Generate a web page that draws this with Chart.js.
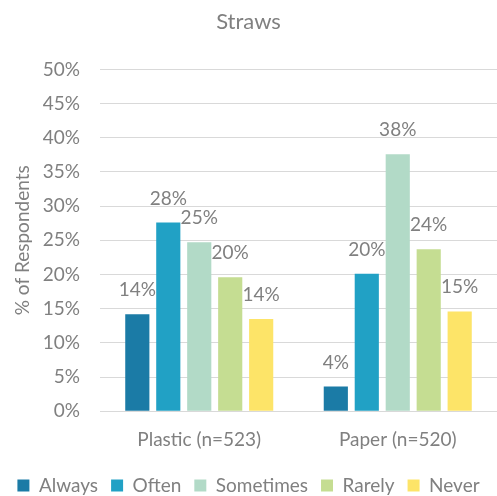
<!DOCTYPE html>
<html>
<head>
<meta charset="utf-8">
<script src="https://cdn.jsdelivr.net/npm/chart.js@4/dist/chart.umd.min.js"></script>
<style>
  html, body { margin: 0; padding: 0; background: #fff; }
  #wrap { width: 497px; height: 496px; }
</style>
</head>
<body>
<div id="wrap"><canvas id="c" width="497" height="496"></canvas></div>
<script>
const categories = ['Plastic (n=523)', 'Paper (n=520)'];
const seriesNames = ['Always', 'Often', 'Sometimes', 'Rarely', 'Never'];
const always = [14.2, 3.6];
const often = [27.6, 20.1];
const sometimes = [24.7, 37.6];
const rarely = [19.6, 23.7];
const never = [13.5, 14.6];
const yTicks = [0, 5, 10, 15, 20, 25, 30, 35, 40, 45, 50];

const colors = ['#1B7BA6', '#21A1C5', '#B2DAC7', '#C5DD92', '#FDE468'];
const grey = '#808080';
const font = "Lato, sans-serif";

// draw the rounded value above each bar
const valueLabels = {
  id: 'valueLabels',
  afterDatasetsDraw(chart) {
    const ctx = chart.ctx;
    ctx.save();
    ctx.font = '19px ' + font;
    ctx.fillStyle = grey;
    ctx.textAlign = 'center';
    ctx.textBaseline = 'alphabetic';
    chart.data.datasets.forEach((ds, i) => {
      chart.getDatasetMeta(i).data.forEach((bar, j) => {
        ctx.fillText(Math.round(ds.data[j]) + '%', bar.x, bar.y - 18);
      });
    });
    ctx.restore();
  }
};

const values = [always, often, sometimes, rarely, never];
const datasets = seriesNames.map((name, i) => ({
  label: name,
  data: values[i],
  backgroundColor: colors[i],
  borderWidth: 0,
  barPercentage: 0.78,
  categoryPercentage: 0.78
}));

new Chart(document.getElementById('c'), {
  type: 'bar',
  data: { labels: categories, datasets },
  plugins: [valueLabels],
  options: {
    responsive: false,
    animation: false,
    layout: { padding: { left: 0, right: 0, top: 0, bottom: -9 } },
    plugins: {
      title: {
        display: true,
        text: 'Straws',
        color: grey,
        font: { family: font, size: 22, weight: 'normal' },
        padding: { top: 9, bottom: 34 }
      },
      legend: {
        position: 'bottom',
        labels: {
          color: grey,
          font: { family: font, size: 19 },
          boxWidth: 12,
          boxHeight: 12,
          padding: 13
        }
      },
      tooltip: { enabled: false }
    },
    scales: {
      x: {
        grid: { display: false },
        border: { color: '#D9D9D9' },
        afterFit(axis) { axis.height += 3; },
        ticks: { color: grey, font: { family: font, size: 19 }, padding: 9 }
      },
      y: {
        min: 0,
        max: 50,
        afterBuildTicks(axis) { axis.ticks = yTicks.map(v => ({ value: v })); },
        afterFit(axis) { axis.width = 100; },
        grid: { color: '#D9D9D9', drawTicks: false },
        border: { display: false },
        ticks: {
          color: grey,
          font: { family: font, size: 19 },
          padding: 20,
          callback: v => v + '%'
        },
        title: {
          display: true,
          text: '% of Respondents',
          color: grey,
          font: { family: font, size: 19 },
          padding: { top: 11, bottom: 0 }
        }
      }
    }
  }
});
</script>
</body>
</html>
